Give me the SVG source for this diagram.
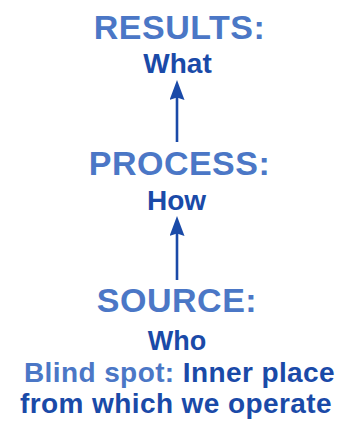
<svg xmlns="http://www.w3.org/2000/svg" width="341" height="423" viewBox="0 0 341 423">
  <style>
    .h { font-family: "Liberation Sans", Arial, sans-serif; font-weight: bold; font-size: 34px; fill: #4b77c6; text-anchor: middle; letter-spacing: 0.5px; }
    .s { font-family: "Liberation Sans", Arial, sans-serif; font-weight: bold; font-size: 28px; fill: #1a4aa8; text-anchor: middle; }
    .b { letter-spacing: 0.4px; }
    .lt { fill: #4b77c6; }
    .dk { fill: #1a4aa8; }
    .conn { stroke: #1a4aa8; stroke-width: 2.6; fill: none; }
  </style>
  <defs>
    <marker id="arrow" markerUnits="userSpaceOnUse" viewBox="0 0 20 15" markerWidth="20" markerHeight="15" refX="10" refY="7.5" orient="auto">
      <path d="M0,0 L20,7.5 L0,15 L2.5,7.5 Z" fill="#1a4aa8"/>
    </marker>
  </defs>
  <rect width="341" height="423" fill="#ffffff"/>
  <g id="results">
    <text class="h" x="179.5" y="39">RESULTS:</text>
    <text class="s" x="177.5" y="73">What</text>
  </g>
  <g id="process">
    <text class="h" x="179.5" y="175">PROCESS:</text>
    <text class="s" x="176.5" y="210">How</text>
  </g>
  <g id="source">
    <text class="h" x="177" y="312">SOURCE:</text>
    <text class="s" x="177" y="350" style="font-size:27px">Who</text>
    <text class="s b" x="179.5" y="382"><tspan class="lt">Blind spot: </tspan><tspan class="dk">Inner place</tspan></text>
    <text class="s b" x="176" y="413">from which we operate</text>
  </g>
  <g id="connectors">
    <line class="conn" x1="177" y1="142" x2="177" y2="90" marker-end="url(#arrow)"/>
    <line class="conn" x1="177" y1="280" x2="177" y2="226" marker-end="url(#arrow)"/>
  </g>
</svg>
